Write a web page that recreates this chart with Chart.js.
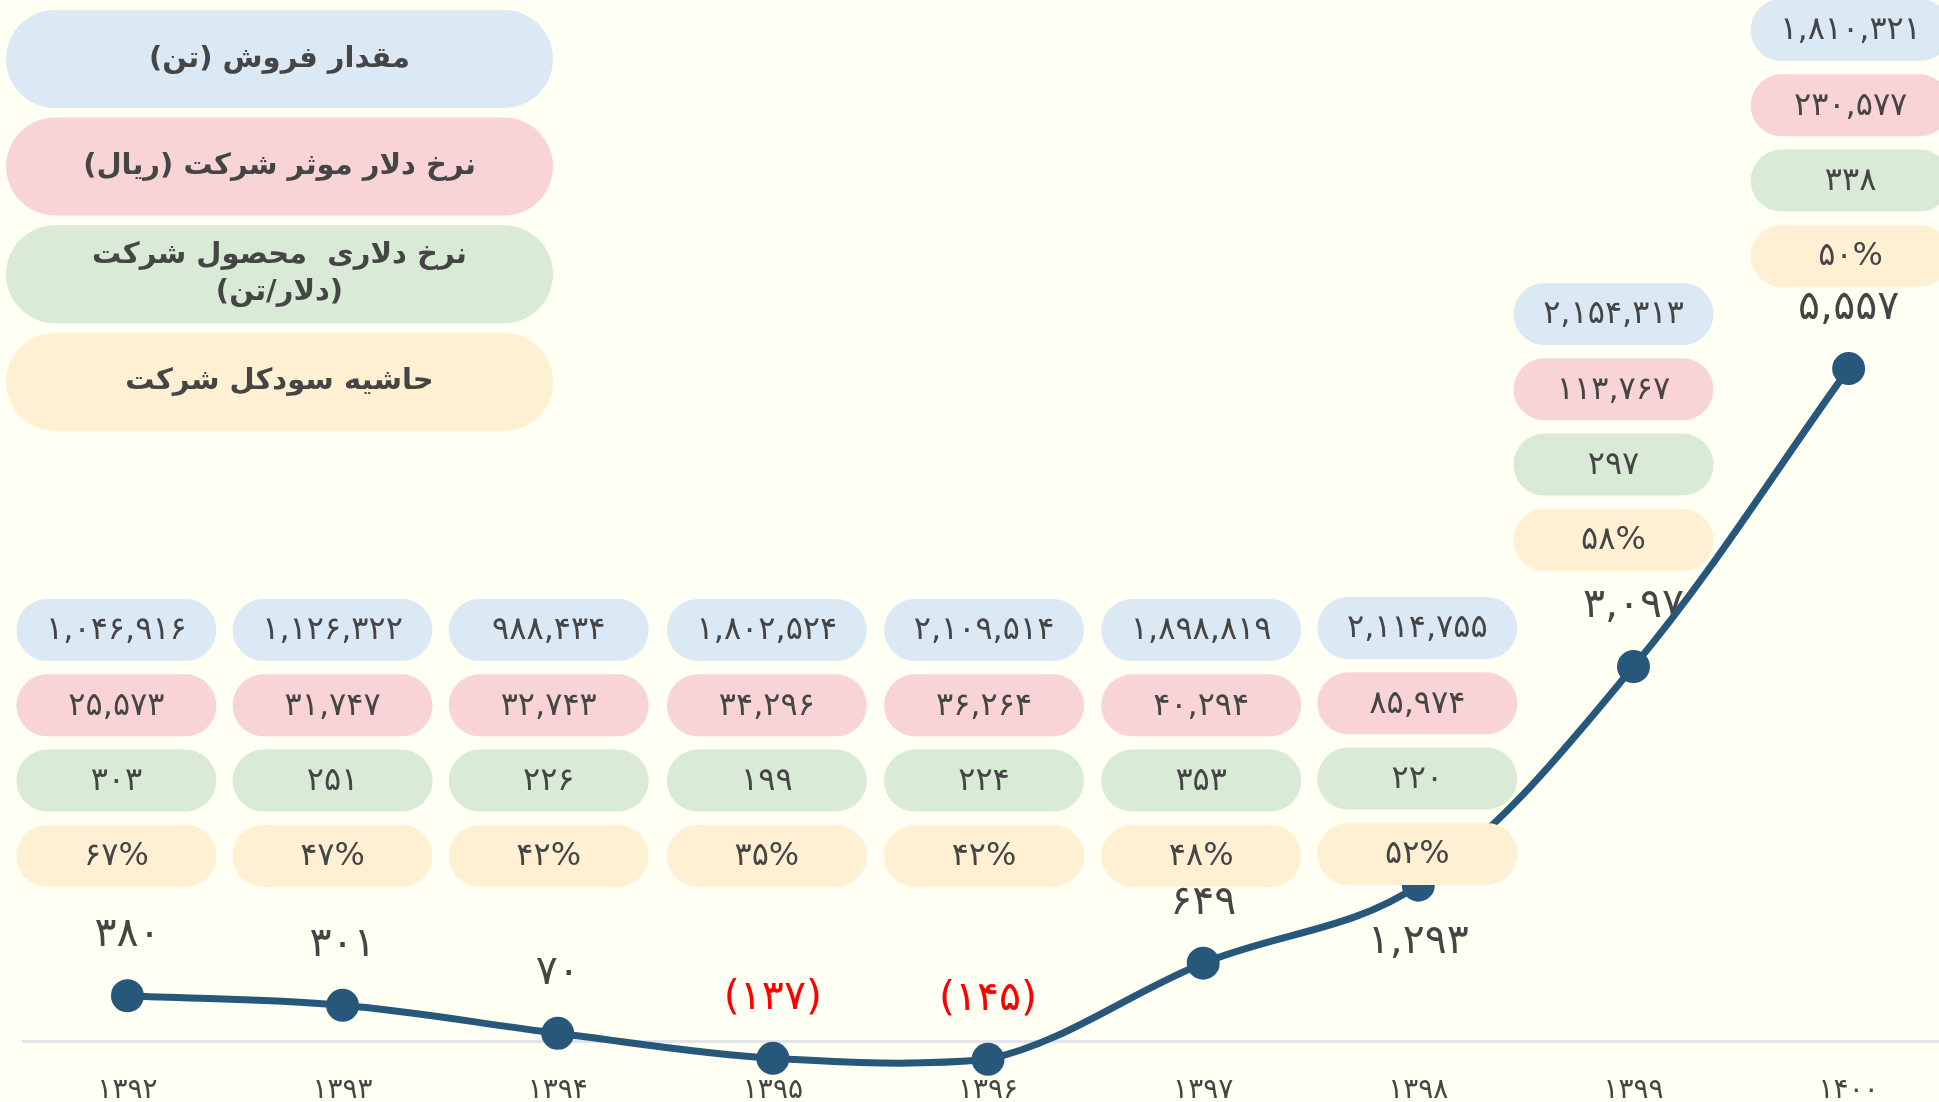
<!DOCTYPE html>
<html lang="fa">
<head>
<meta charset="utf-8">
<script src="https://cdn.jsdelivr.net/npm/chart.js@4.4.1/dist/chart.umd.min.js"></script>
<style>
  html, body { margin: 0; padding: 0; background: #fffff3; overflow: hidden; }
  #wrap { width: 1939px; height: 1102px; }
</style>
</head>
<body>
<div id="wrap"><canvas id="grafica" width="1939" height="1102"></canvas></div>
<script>
// داده ها
const years = [1392, 1393, 1394, 1395, 1396, 1397, 1398, 1399, 1400];
const profit = [380, 301, 70, -137, -145, 649, 1293, 3097, 5557];
const sales = [1046916, 1126322, 988434, 1802524, 2109514, 1898819, 2114755, 2154313, 1810321];
const dollarRate = [25573, 31747, 32743, 34296, 36264, 40294, 85974, 113767, 230577];
const productPrice = [303, 251, 226, 199, 224, 353, 220, 297, 338];
const margin = [67, 47, 42, 35, 42, 48, 52, 58, 50];

const legendLabels = [
  ["مقدار فروش (تن)"],
  ["نرخ دلار موثر شرکت (ریال)"],
  ["نرخ دلاری  محصول شرکت", "(دلار/تن)"],
  ["حاشیه سودکل شرکت"]
];
const boxColors = ["#dbe9f5", "#f8d4d7", "#d9ead6", "#fff0d4"];

// چیدمان جعبه ها (مرکز ردیف اول و جابجایی افقی هر ستون)
const stackTop = [630, 630, 630, 630, 630, 630, 628, 314, 30];
const stackShift = [-11, -10, -9, -6, -4, -2, -1, -20, 2];
const labelBelow = [false, false, false, false, false, false, true, false, false];

const FONT = "'DejaVu Sans', sans-serif";
const LINE = "#27577a";
const TEXT = "#454545";

function fa(n, group = true) {
  let s = group ? n.toLocaleString("en-US") : String(n);
  return s.replace(/\d/g, d => "۰۱۲۳۴۵۶۷۸۹"[d]);
}

function pill(ctx, cx, cy, w, h, color) {
  ctx.beginPath();
  ctx.roundRect(cx - w / 2, cy - h / 2, w, h, h / 2);
  ctx.fillStyle = color;
  ctx.fill();
}

const labelsPlugin = {
  id: "labels",
  beforeDatasetsDraw(chart) {
    const ctx = chart.ctx;
    const pts = chart.getDatasetMeta(0).data;
    ctx.save();
    ctx.font = "41px " + FONT;
    ctx.textAlign = "center";
    ctx.textBaseline = "middle";
    ctx.direction = "ltr";
    pts.forEach((p, i) => {
      const v = profit[i];
      const t = v < 0 ? "(" + fa(-v) + ")" : fa(v);
      ctx.fillStyle = v < 0 ? "#ff0000" : TEXT;
      ctx.fillText(t, p.x, labelBelow[i] ? p.y + 57 : p.y - 60);
    });
    ctx.restore();
  }
};

const boxesPlugin = {
  id: "boxes",
  afterDatasetsDraw(chart) {
    const ctx = chart.ctx;
    const pts = chart.getDatasetMeta(0).data;
    ctx.save();
    ctx.textAlign = "center";
    ctx.textBaseline = "middle";
    ctx.direction = "ltr";
    ctx.font = "32px " + FONT;
    pts.forEach((p, i) => {
      const cx = p.x + stackShift[i];
      const rows = [fa(sales[i]), fa(dollarRate[i]), fa(productPrice[i]), fa(margin[i]) + "%"];
      rows.forEach((t, r) => {
        const cy = stackTop[i] + r * 75.3;
        pill(ctx, cx, cy, 200, 62, boxColors[r]);
        ctx.fillStyle = TEXT;
        ctx.fillText(t, cx, cy + 1);
      });
    });

    // راهنما
    ctx.direction = "rtl";
    ctx.font = "bold 29px " + FONT;
    legendLabels.forEach((lines, r) => {
      const cy = 59 + r * 107.6;
      pill(ctx, 279.5, cy, 547, 98, boxColors[r]);
      ctx.fillStyle = TEXT;
      lines.forEach((l, k) => {
        const off = (k - (lines.length - 1) / 2) * 37;
        ctx.fillText(l, 279.5, cy + off);
      });
    });
    ctx.restore();
  }
};

const ctx = document.getElementById("grafica").getContext("2d");

new Chart(ctx, {
  type: "line",
  data: {
    datasets: [{
      data: years.map((y, i) => ({ x: i, y: profit[i] })),
      borderColor: LINE,
      backgroundColor: LINE,
      borderWidth: 7,
      tension: 0.35,
      pointRadius: 15,
      pointBorderWidth: 3,
      pointBackgroundColor: LINE,
      pointBorderColor: LINE,
      clip: false
    }]
  },
  options: {
    responsive: false,
    animation: false,
    layout: { autoPadding: false, padding: { left: 22, right: 0, top: 0, bottom: 0 } },
    plugins: { legend: { display: false }, tooltip: { enabled: false } },
    scales: {
      x: {
        type: "linear",
        min: -0.49,
        max: 8.42,
        afterBuildTicks: (s) => { s.ticks = years.map((y, i) => ({ value: i })); },
        afterFit: (s) => { s.height = 36; s.paddingLeft = 0; s.paddingRight = 0; },
        grid: { display: false, drawTicks: false },
        border: { display: false },
        ticks: {
          padding: 8,
          color: TEXT,
          font: { family: FONT, size: 28 },
          callback: (v) => fa(years[v], false)
        }
      },
      y: {
        min: -200,
        max: 8600,
        afterBuildTicks: (s) => { s.ticks = [{ value: 0 }]; },
        ticks: { display: false },
        border: { display: false },
        grid: { drawTicks: false, color: "#e3e3ea", lineWidth: 3 }
      }
    }
  },
  plugins: [labelsPlugin, boxesPlugin]
});
</script>
</body>
</html>
